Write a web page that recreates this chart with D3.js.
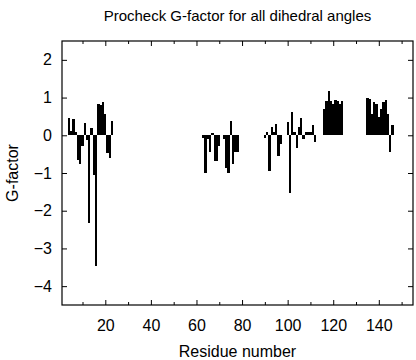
<!DOCTYPE html>
<html>
<head>
<meta charset="utf-8">
<script src="https://cdn.jsdelivr.net/npm/d3@7/dist/d3.min.js"></script>
<style>
  body { margin: 0; background: #fff; }
  svg { display: block; font-family: "Liberation Sans", Arial, Helvetica, sans-serif; }
</style>
</head>
<body>
<svg id="chart" width="416" height="360"></svg>
<script>
// Residue numbers and Procheck G-factor values
const residues = [
  4, 5, 6, 7, 8, 9, 10, 11, 12, 13, 14, 15, 16, 17, 18, 19, 20, 21, 22, 23,
  63, 64, 65, 66, 67, 68, 69, 70, 71, 72, 73, 74, 75, 76, 77, 78,
  90, 91, 92, 93, 94, 95, 96, 97, 98, 99, 100, 101, 102, 103, 104, 105, 106, 107, 108, 109, 110, 111, 112,
  116, 117, 118, 119, 120, 121, 122, 123, 124,
  135, 136, 137, 138, 139, 140, 141, 142, 143, 144, 145, 146
];
const gfactor = [
  0.46, 0.12, 0.43, 0.10, -0.66, -0.76, -0.28, 0.32, -0.12, -2.32, 0.19, -1.05, -3.47, 0.82, 0.79, 0.88, 0.57, -0.47, -0.59, 0.38,
  -0.08, -1.00, -0.10, -0.45, 0.05, -0.68, -0.68, -0.28, 0.00, -0.10, -0.88, -0.99, 0.39, -0.75, -0.45, -0.44,
  -0.06, 0.08, -0.96, 0.22, 0.10, 0.30, -0.55, -0.24, 0.00, 0.00, 0.35, -1.53, 0.62, 0.08, -0.35, 0.23, 0.46, -0.10, 0.09, 0.09, 0.10, 0.27, -0.19,
  0.70, 0.92, 1.18, 0.92, 0.82, 0.94, 0.90, 0.82, 0.92,
  1.00, 0.97, 0.57, 0.88, 0.82, 0.48, 0.70, 0.88, 0.94, 0.57, -0.44, 0.26
];
const xMajorTicks = [20, 40, 60, 80, 100, 120, 140];
const xMinorTicks = [10, 30, 50, 70, 90, 110, 130, 150];
const yTicks = [2, 1, 0, -1, -2, -3, -4];
const title = "Procheck G-factor for all dihedral angles";
const xTitle = "Residue number";
const yTitle = "G-factor";

const svg = d3.select("#chart");
const L = 62, R = 413, T = 41, B = 305;

const x = d3.scaleLinear().domain([1, 155]).range([L, R]);
const y = d3.scaleLinear().domain([-4.5, 2.5]).range([B, T]);

const data = residues.map((r, i) => ({ r, v: gfactor[i] }));

svg.append("g")
  .attr("shape-rendering", "crispEdges")
  .selectAll("rect")
  .data(data)
  .join("rect")
  .attr("x", d => x(d.r - 0.5))
  .attr("width", d => x(d.r + 0.5) - x(d.r - 0.5))
  .attr("y", d => y(Math.max(0, d.v)))
  .attr("height", d => Math.abs(y(d.v) - y(0)))
  .attr("fill", "#000");

function styleAxis(g) {
  g.select(".domain").remove();
  g.selectAll(".tick line").attr("stroke", "#000");
  g.selectAll(".tick text").attr("fill", "#000").attr("font-size", 16);
}

// bottom axis
svg.append("g").attr("transform", `translate(0,${B})`)
  .call(d3.axisBottom(x).tickValues(xMajorTicks).tickSize(-5).tickPadding(15))
  .call(styleAxis);
svg.append("g").attr("transform", `translate(0,${B})`)
  .call(d3.axisBottom(x).tickValues(xMinorTicks).tickSize(-3).tickFormat(""))
  .call(styleAxis);
// top axis
svg.append("g").attr("transform", `translate(0,${T})`)
  .call(d3.axisTop(x).tickValues(xMajorTicks).tickSize(-5).tickFormat(""))
  .call(styleAxis);
svg.append("g").attr("transform", `translate(0,${T})`)
  .call(d3.axisTop(x).tickValues(xMinorTicks).tickSize(-3).tickFormat(""))
  .call(styleAxis);
// left axis
svg.append("g").attr("transform", `translate(${L},0)`)
  .call(d3.axisLeft(y).tickValues(yTicks).tickSize(-5).tickPadding(10).tickFormat(d3.format("d")))
  .call(styleAxis);
// right axis
svg.append("g").attr("transform", `translate(${R},0)`)
  .call(d3.axisRight(y).tickValues(yTicks).tickSize(-5).tickFormat(""))
  .call(styleAxis);

// frame
svg.append("rect")
  .attr("x", L).attr("y", T)
  .attr("width", R - L).attr("height", B - T)
  .attr("fill", "none").attr("stroke", "#000").attr("stroke-width", 1.2);

// titles
svg.append("text")
  .attr("x", (L + R) / 2).attr("y", 21)
  .attr("text-anchor", "middle").attr("font-size", 15)
  .text(title);
svg.append("text")
  .attr("x", (L + R) / 2).attr("y", 357)
  .attr("text-anchor", "middle").attr("font-size", 16)
  .text(xTitle);
svg.append("text")
  .attr("transform", `translate(18,${(T + B) / 2}) rotate(-90)`)
  .attr("text-anchor", "middle").attr("font-size", 16)
  .text(yTitle);
</script>
</body>
</html>
